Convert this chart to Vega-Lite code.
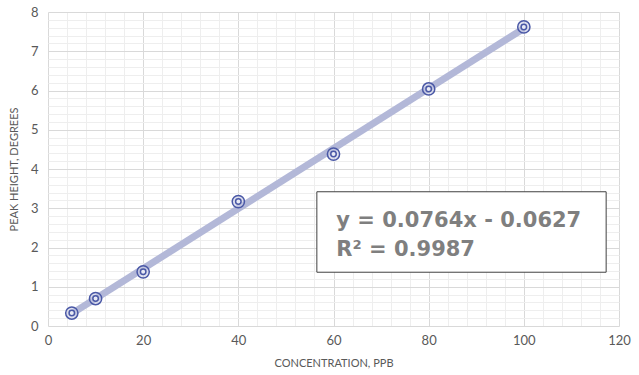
{
  "$schema": "https://vega.github.io/schema/vega-lite/v6.json",
  "width": 571,
  "height": 314,
  "autosize": {"type": "none"},
  "padding": {"left": 48, "top": 12, "right": 20, "bottom": 49},
  "background": "white",
  "config": {
    "view": {"stroke": null},
    "font": "Lato",
    "axis": {
      "labelFont": "Lato", "titleFont": "Lato",
      "labelColor": "#595959", "titleColor": "#595959",
      "labelFontSize": 13, "titleFontSize": 11, "titleFontWeight": "normal",
      "ticks": false, "domain": false, "labelBound": false
    }
  },
  "data": {"values": [
    {"conc": 5, "peak": 0.33},
    {"conc": 10, "peak": 0.70},
    {"conc": 20, "peak": 1.38},
    {"conc": 40, "peak": 3.17},
    {"conc": 60, "peak": 4.38},
    {"conc": 80, "peak": 6.04},
    {"conc": 100, "peak": 7.62}
  ]},
  "layer": [
    {
      "mark": {"type": "point", "opacity": 0},
      "encoding": {
        "x": {"field": "conc", "type": "quantitative", "scale": {"domain": [0, 120], "nice": false},
          "axis": {"title": "CONCENTRATION, PPB", "tickCount": 200, "labelOverlap": false, "labelFlush": false,
            "values": [0,4,8,12,16,20,24,28,32,36,40,44,48,52,56,60,64,68,72,76,80,84,88,92,96,100,104,108,112,116,120],
            "labelExpr": "datum.value % 20 === 0 ? format(datum.value, 'd') : ''",
            "gridColor": {"condition": {"test": "datum.value % 20 === 0", "value": "#d9d9d9"}, "value": "#eeeeee"},
            "labelPadding": 8, "titlePadding": 10}},
        "y": {"field": "peak", "type": "quantitative", "scale": {"domain": [0, 8], "nice": false},
          "axis": {"title": "PEAK HEIGHT, DEGREES", "tickCount": 200, "labelOverlap": false, "labelFlush": false,
            "values": [0,0.2,0.4,0.6,0.8,1,1.2,1.4,1.6,1.8,2,2.2,2.4,2.6,2.8,3,3.2,3.4,3.6,3.8,4,4.2,4.4,4.6,4.8,5,5.2,5.4,5.6,5.8,6,6.2,6.4,6.6,6.8,7,7.2,7.4,7.6,7.8,8],
            "labelExpr": "indexof([0,1,2,3,4,5,6,7,8], datum.value) >= 0 ? format(datum.value, 'd') : ''",
            "gridColor": {"condition": {"test": "indexof([0,1,2,3,4,5,6,7,8], datum.value) >= 0", "value": "#d9d9d9"}, "value": "#eeeeee"},
            "labelPadding": 10, "titlePadding": 11}}
      }
    },
    {
      "transform": [{"regression": "peak", "on": "conc", "extent": [5, 100]}],
      "mark": {"type": "line", "color": "#b3b8d8", "strokeWidth": 7, "strokeCap": "butt"},
      "encoding": {
        "x": {"field": "conc", "type": "quantitative"},
        "y": {"field": "peak", "type": "quantitative"}
      }
    },
    {
      "mark": {"type": "point", "shape": "circle", "filled": false, "stroke": "#4a58a6", "strokeWidth": 1.5, "size": 150, "fill": "#c9cde6", "fillOpacity": 0.6},
      "encoding": {
        "x": {"field": "conc", "type": "quantitative"},
        "y": {"field": "peak", "type": "quantitative"}
      }
    },
    {
      "mark": {"type": "point", "shape": "circle", "filled": false, "stroke": "#4a58a6", "strokeWidth": 1.5, "size": 30, "fill": "#e8eaf5", "fillOpacity": 1},
      "encoding": {
        "x": {"field": "conc", "type": "quantitative"},
        "y": {"field": "peak", "type": "quantitative"}
      }
    },
    {
      "data": {"values": [{"x1": 56.5, "x2": 117.3, "y1": 3.42, "y2": 1.37}]},
      "mark": {"type": "rect", "fill": "white", "stroke": "#404040", "strokeWidth": 1},
      "encoding": {
        "x": {"field": "x1", "type": "quantitative"},
        "x2": {"field": "x2"},
        "y": {"field": "y1", "type": "quantitative"},
        "y2": {"field": "y2"}
      }
    },
    {
      "data": {"values": [
        {"tx": 60.6, "ty": 2.53, "label": "y = 0.0764x - 0.0627"},
        {"tx": 60.6, "ty": 1.78, "label": "R² = 0.9987"}
      ]},
      "mark": {"type": "text", "align": "left", "baseline": "alphabetic", "font": "DejaVu Sans", "fontSize": 21, "fontWeight": "bold", "color": "#7f7f7f"},
      "encoding": {
        "x": {"field": "tx", "type": "quantitative"},
        "y": {"field": "ty", "type": "quantitative"},
        "text": {"field": "label"}
      }
    }
  ]
}
